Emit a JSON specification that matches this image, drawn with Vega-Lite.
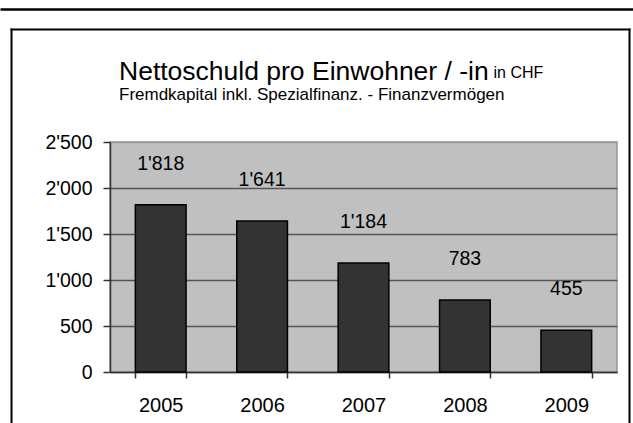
{
  "$schema": "https://vega.github.io/schema/vega-lite/v6.json",
  "autosize": "none",
  "width": 507,
  "height": 230,
  "padding": {"left": 110, "top": 142, "right": 16, "bottom": 51},
  "background": "white",
  "data": {
    "values": [
      {"Jahr": "2005", "Wert": 1818},
      {"Jahr": "2006", "Wert": 1641},
      {"Jahr": "2007", "Wert": 1184},
      {"Jahr": "2008", "Wert": 783},
      {"Jahr": "2009", "Wert": 455}
    ]
  },
  "config": {
    "font": "Liberation Sans",
    "locale": {"number": {"decimal": ".", "thousands": "'", "grouping": [3], "currency": ["", ""]}},
    "view": {"fill": "#c0c0c0", "stroke": "#999999", "strokeWidth": 1.5}
  },
  "title": {
    "text": "Nettoschuld pro Einwohner  / -in",
    "subtitle": "Fremdkapital inkl. Spezialfinanz. - Finanzvermögen",
    "anchor": "start",
    "frame": "group",
    "dx": 9,
    "offset": -94,
    "font": "Liberation Sans",
    "fontSize": 26.5,
    "fontWeight": "normal",
    "color": "black",
    "subtitleFont": "Liberation Sans",
    "subtitleFontSize": 17,
    "subtitleColor": "black",
    "subtitlePadding": 2
  },
  "resolve": {
    "scale": {"x": "independent", "y": "independent"},
    "axis": {"x": "independent", "y": "independent"}
  },
  "layer": [
    {
      "mark": {"type": "bar", "fill": "#333333", "stroke": "black", "strokeWidth": 1.5},
      "encoding": {
        "x": {
          "field": "Jahr",
          "type": "ordinal",
          "scale": {"paddingInner": 0.5, "paddingOuter": 0.25},
          "axis": {
            "orient": "bottom",
            "title": null,
            "labelAngle": 0,
            "labelFontSize": 20,
            "labelColor": "black",
            "labelPadding": 17,
            "tickBand": "extent",
            "tickSize": 6,
            "tickColor": "#333333",
            "tickWidth": 1.5,
            "domainColor": "#333333",
            "domainWidth": 1.5,
            "grid": false
          }
        },
        "y": {
          "field": "Wert",
          "type": "quantitative",
          "scale": {"domain": [0, 2500], "nice": false},
          "axis": {
            "orient": "left",
            "values": [0, 500, 1000, 1500, 2000, 2500],
            "format": ",d",
            "labelFontSize": 19.5,
            "labelColor": "black",
            "labelPadding": 11,
            "tickSize": 7,
            "tickColor": "#333333",
            "tickWidth": 1.5,
            "domainColor": "#333333",
            "domainWidth": 1.5,
            "grid": true,
            "gridColor": {"condition": {"test": "datum.value === 2500", "value": "#999999"}, "value": "#555555"},
            "gridWidth": 1.5,
            "title": "in CHF",
            "titleAngle": 0,
            "titleAlign": "left",
            "titleBaseline": "alphabetic",
            "titleX": 383,
            "titleY": -65,
            "titleFontSize": 16,
            "titleFontWeight": "normal",
            "titleColor": "black"
          }
        }
      }
    },
    {
      "mark": {"type": "text", "baseline": "middle", "dy": -41, "fontSize": 19.5, "color": "black"},
      "encoding": {
        "x": {
          "field": "Jahr",
          "type": "ordinal",
          "scale": {"paddingInner": 0.5, "paddingOuter": 0.25},
          "axis": null
        },
        "y": {
          "field": "Wert",
          "type": "quantitative",
          "scale": {"domain": [0, 2500], "nice": false},
          "axis": null
        },
        "text": {"field": "Wert", "type": "quantitative", "format": ",d"}
      }
    },
    {
      "data": {"values": [{}]},
      "mark": {"type": "point", "opacity": 0, "size": 0},
      "encoding": {
        "x": {
          "datum": 0,
          "type": "quantitative",
          "scale": {"domain": [0, 1], "range": [-99, 519]},
          "axis": {"orient": "top", "offset": 113, "domainColor": "black", "domainWidth": 2, "domainCap": "square", "ticks": false, "labels": false, "grid": false, "title": null}
        },
        "y": {
          "datum": 0,
          "type": "quantitative",
          "scale": {"domain": [0, 1], "range": [300, -113]},
          "axis": {"orient": "left", "offset": 99, "domainColor": "black", "domainWidth": 2, "domainCap": "square", "ticks": false, "labels": false, "grid": false, "title": null}
        }
      }
    },
    {
      "data": {"values": [{}]},
      "mark": {"type": "point", "opacity": 0, "size": 0},
      "encoding": {
        "x": {
          "datum": 0,
          "type": "quantitative",
          "scale": {"domain": [0, 1], "range": [-110, 523]},
          "axis": {"orient": "top", "offset": 133, "domainColor": "black", "domainWidth": 2.5, "ticks": false, "labels": false, "grid": false, "title": null}
        },
        "y": {
          "datum": 0,
          "type": "quantitative",
          "scale": {"domain": [0, 1], "range": [300, -113]},
          "axis": {"orient": "right", "offset": 12, "domainColor": "black", "domainWidth": 2, "domainCap": "square", "ticks": false, "labels": false, "grid": false, "title": null}
        }
      }
    }
  ]
}
